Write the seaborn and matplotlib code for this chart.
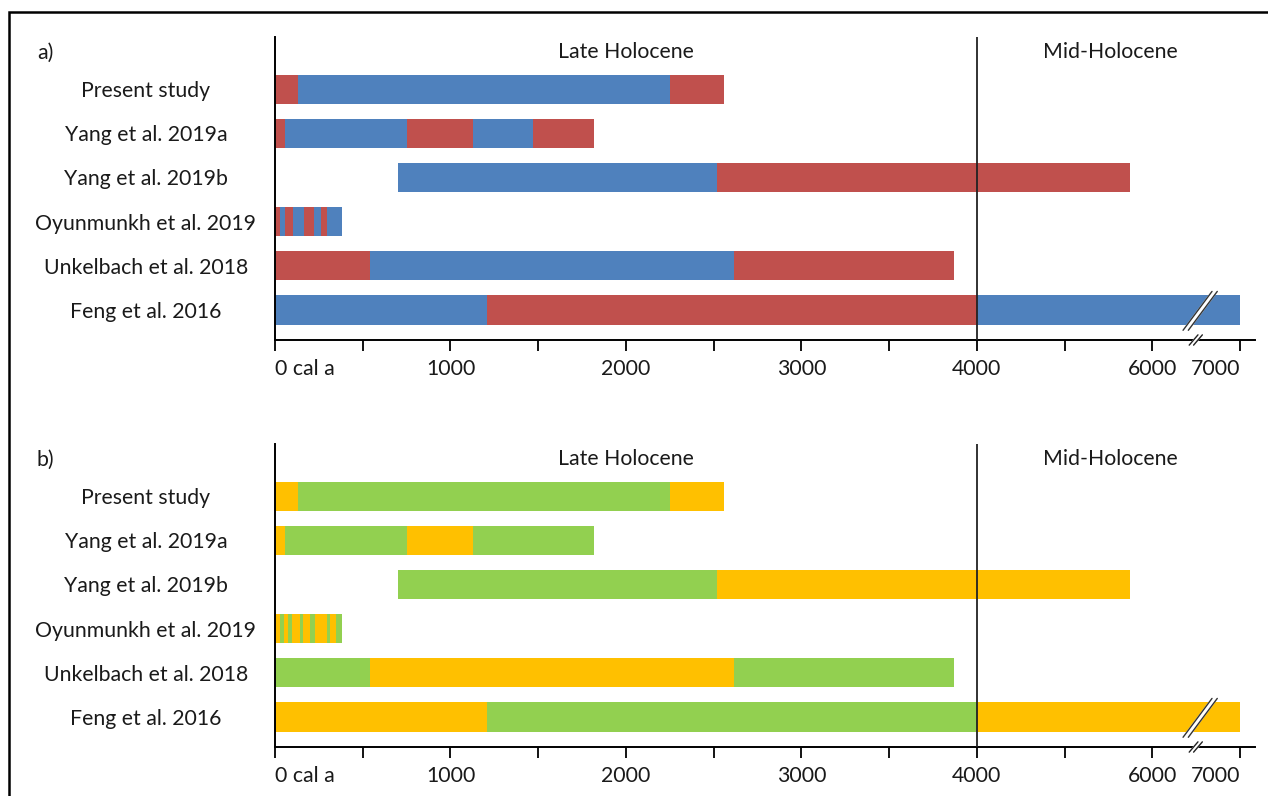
import numpy as np
import matplotlib
matplotlib.use("Agg")
import matplotlib.pyplot as plt
from matplotlib.patches import Rectangle
import matplotlib.transforms as mtransforms
import seaborn as sns

# ---- data: phase boundaries (cal a BP) and phase colours per study ----
studies = ["Present study", "Yang et al. 2019a", "Yang et al. 2019b",
           "Oyunmunkh et al. 2019", "Unkelbach et al. 2018", "Feng et al. 2016"]

# panel a
present_a_edges = [0, 130, 2250, 2560]
present_a_cols = ["red", "blue", "red"]
yang19a_a_edges = [0, 55, 750, 1130, 1470, 1820]
yang19a_a_cols = ["red", "blue", "red", "blue", "red"]
yang19b_a_edges = [700, 2520, 5740]
yang19b_a_cols = ["blue", "red"]
oyun_a_edges = [0, 30, 55, 100, 165, 220, 260, 295, 380]
oyun_a_cols = ["red", "blue", "red", "blue", "red", "blue", "red", "blue"]
unkel_a_edges = [0, 540, 2615, 3870]
unkel_a_cols = ["red", "blue", "red"]
feng_a_edges = [0, 1210, 4000, 7000]
feng_a_cols = ["blue", "red", "blue"]

# panel b
present_b_edges = [0, 130, 2250, 2560]
present_b_cols = ["orange", "green", "orange"]
yang19a_b_edges = [0, 55, 750, 1130, 1820]
yang19a_b_cols = ["orange", "green", "orange", "green"]
yang19b_b_edges = [700, 2520, 5740]
yang19b_b_cols = ["green", "orange"]
oyun_b_edges = [0, 30, 50, 75, 95, 140, 160, 200, 230, 295, 315, 350, 380]
oyun_b_cols = ["orange", "green", "orange", "green", "orange", "green",
               "orange", "green", "orange", "green", "orange", "green"]
unkel_b_edges = [0, 540, 2615, 3870]
unkel_b_cols = ["green", "orange", "green"]
feng_b_edges = [0, 1210, 4000, 7000]
feng_b_cols = ["orange", "green", "orange"]

tick_values = [0, 500, 1000, 1500, 2000, 2500, 3000, 3500, 4000, 5000, 6000, 7000]
tick_labels = ["0 cal a", "", "1000", "", "2000", "", "3000", "", "4000", "", "6000", "7000"]

palette = {"red": "#C0504D", "blue": "#4F81BD", "green": "#92D050", "orange": "#FFC000"}

sns.set_theme(style="white")
plt.rcParams["font.family"] = ["Lato", "DejaVu Sans"]

FS = 15.3
TXT = "#1a1a1a"
BOUNDARY = 4000  # Late / Mid-Holocene boundary; scale compressed beyond it


def forward(x):
    x = np.asarray(x, dtype=float)
    return np.where(x <= BOUNDARY, x, BOUNDARY + (x - BOUNDARY) / 2.0)


def inverse(u):
    u = np.asarray(u, dtype=float)
    return np.where(u <= BOUNDARY, u, BOUNDARY + (u - BOUNDARY) * 2.0)


def draw_panel(fig, ax, rows, tag, tag_y):
    bar_h = 0.66
    for i, (edges, cols) in enumerate(rows):
        for left, right, c in zip(edges[:-1], edges[1:], cols):
            ax.barh(i, right - left, left=left, height=bar_h,
                    color=palette[c], edgecolor="none", zorder=1)

    ax.set_xscale("function", functions=(forward, inverse))
    ax.set_xlim(0, 7170)
    ax.set_ylim(5.68, -1.18)

    ax.set_yticks(range(len(studies)))
    ax.set_yticklabels(studies, fontsize=FS, color=TXT)
    for lab in ax.get_yticklabels():
        lab.set_horizontalalignment("center")
    ax.tick_params(axis="y", length=0, pad=93)

    ax.set_xticks(tick_values)
    ax.set_xticklabels(tick_labels, fontsize=FS, color=TXT)
    ax.xaxis.set_minor_locator(matplotlib.ticker.NullLocator())
    ax.tick_params(axis="x", direction="out", length=8, width=1.3,
                   color="black", pad=6, bottom=True)
    xl = ax.get_xticklabels()
    xl[0].set_horizontalalignment("left")
    xl[-1].set_horizontalalignment("right")

    for side in ("top", "right"):
        ax.spines[side].set_visible(False)
    for side in ("left", "bottom"):
        ax.spines[side].set_color("black")
        ax.spines[side].set_linewidth(1.4)

    ax.axvline(BOUNDARY, color="#222222", lw=1.3, zorder=3)

    ax.text(2000, -0.84, "Late Holocene", ha="center", va="center",
            fontsize=FS, color=TXT)
    ax.text(5520, -0.84, "Mid-Holocene", ha="center", va="center",
            fontsize=FS, color=TXT)
    fig.text(37 / 1268, tag_y, tag, fontsize=FS, ha="left", va="center", color=TXT)

    # scale-break mark across the last bar
    y0, y1 = 5 + 0.46, 5 - 0.42
    xa0, xa1 = 6350, 6680
    dx = 60
    ax.fill([xa0, xa1, xa1 + dx, xa0 + dx], [y0, y1, y1, y0],
            color="white", zorder=4, clip_on=False)
    ax.plot([xa0, xa1], [y0, y1], color="#333333", lw=1.0, zorder=5, clip_on=False)
    ax.plot([xa0 + dx, xa1 + dx], [y0, y1], color="#333333", lw=1.0, zorder=5, clip_on=False)

    # scale-break mark on the axis line
    trans = mtransforms.blended_transform_factory(ax.transData, ax.transAxes)
    h = 0.017
    ax.fill([6420, 6520, 6570, 6470], [-h, h, h, -h], color="white",
            transform=trans, zorder=4, clip_on=False)
    for off in (0, 50):
        ax.plot([6420 + off, 6520 + off], [-h, h], color="#222222", lw=1.0,
                transform=trans, zorder=5, clip_on=False)


fig = plt.figure(figsize=(12.68, 7.96), dpi=100)
fig.patch.set_facecolor("white")

# outer frame (left and top edges visible)
fig.patches.append(Rectangle((9 / 1268, -0.05), 1.2, 1.05 - 12 / 796,
                             transform=fig.transFigure, fill=False,
                             edgecolor="black", lw=1.8, zorder=0))

ax_a = fig.add_axes([275 / 1268, 1 - 340 / 796, 980 / 1268, 303 / 796])
ax_b = fig.add_axes([275 / 1268, 1 - 747 / 796, 980 / 1268, 303 / 796])

rows_a = [(present_a_edges, present_a_cols), (yang19a_a_edges, yang19a_a_cols),
          (yang19b_a_edges, yang19b_a_cols), (oyun_a_edges, oyun_a_cols),
          (unkel_a_edges, unkel_a_cols), (feng_a_edges, feng_a_cols)]
rows_b = [(present_b_edges, present_b_cols), (yang19a_b_edges, yang19a_b_cols),
          (yang19b_b_edges, yang19b_b_cols), (oyun_b_edges, oyun_b_cols),
          (unkel_b_edges, unkel_b_cols), (feng_b_edges, feng_b_cols)]

draw_panel(fig, ax_a, rows_a, "a)", 1 - 53 / 796)
draw_panel(fig, ax_b, rows_b, "b)", 1 - 460 / 796)

fig.savefig("out.png", dpi=100, facecolor="white")
